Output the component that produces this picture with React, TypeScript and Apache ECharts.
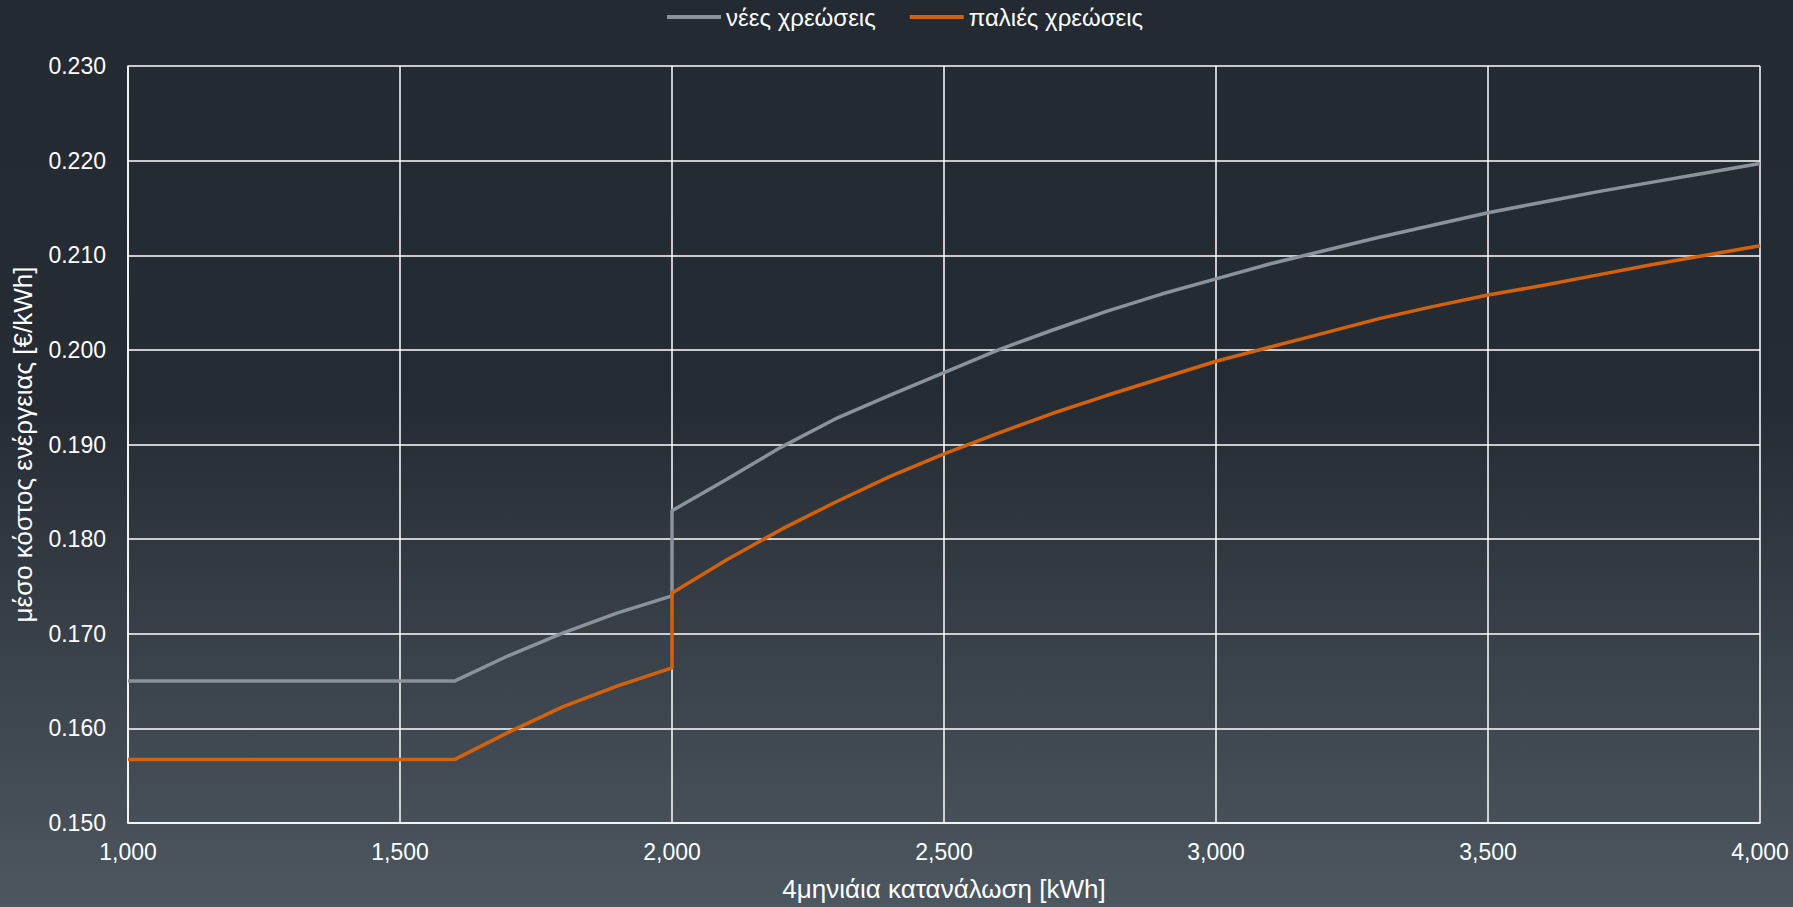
import React, { useEffect, useRef } from "react";
import * as echarts from "echarts";

const kwh = [
  1000, 1100, 1200, 1300, 1400, 1500, 1600, 1700, 1800, 1900, 2000, 2000,
  2100, 2200, 2300, 2400, 2500, 2600, 2700, 2800, 2900, 3000, 3100, 3200,
  3300, 3400, 3500, 3600, 3700, 3800, 3900, 4000,
];

const newCharges = [
  0.165, 0.165, 0.165, 0.165, 0.165, 0.165, 0.165, 0.1677, 0.1701, 0.1722,
  0.174, 0.183, 0.1863, 0.1897, 0.1927, 0.1952, 0.1976, 0.2, 0.2021, 0.2041,
  0.2059, 0.2075, 0.2091, 0.2105, 0.2119, 0.2132, 0.2145, 0.2156, 0.2167,
  0.2177, 0.2187, 0.2197,
];

const oldCharges = [
  0.1567, 0.1567, 0.1567, 0.1567, 0.1567, 0.1567, 0.1567, 0.1596, 0.1623,
  0.1645, 0.1664, 0.1743, 0.1778, 0.181, 0.1839, 0.1866, 0.189, 0.1912,
  0.1933, 0.1952, 0.197, 0.1988, 0.2003, 0.2018, 0.2033, 0.2046, 0.2058,
  0.2068, 0.2079, 0.209, 0.21, 0.211,
];

const seriesNames = ["νέες χρεώσεις", "παλιές χρεώσεις"];
const xAxisTitle = "4μηνιάια κατανάλωση [kWh]";
const yAxisTitle = "μέσο κόστος ενέργειας [€/kWh]";

const FONT = "Liberation Sans";

export default function App() {
  const ref = useRef<HTMLDivElement>(null);

  useEffect(() => {
    document.body.style.margin = "0";
    if (!ref.current) return;
    const chart = echarts.init(ref.current, null, { renderer: "svg" });
    const pairs = (vals: number[]) => kwh.map((x, i) => [x, vals[i]]);
    chart.setOption({
      animation: false,
      backgroundColor: new echarts.graphic.LinearGradient(0, 0, 0, 1, [
        { offset: 0, color: "#242a32" },
        { offset: 0.45, color: "#262c34" },
        { offset: 1, color: "#4d5760" },
      ]),
      textStyle: { fontFamily: FONT },
      legend: {
        top: 0,
        left: 662,
        icon: "rect",
        itemWidth: 54,
        itemHeight: 4,
        itemGap: 34,
        textStyle: { color: "#ffffff", fontSize: 24, fontFamily: FONT },
        data: seriesNames,
      },
      grid: { left: 128, right: 33, top: 66, bottom: 84, containLabel: false },
      xAxis: {
        type: "value",
        min: 1000,
        max: 4000,
        interval: 500,
        name: xAxisTitle,
        nameLocation: "middle",
        nameGap: 53,
        nameTextStyle: { color: "#ffffff", fontSize: 26, fontFamily: FONT },
        axisLine: { show: true, lineStyle: { color: "#ffffff", width: 1.5 } },
        axisTick: { show: false },
        axisLabel: {
          color: "#ffffff",
          fontSize: 23,
          margin: 17,
          formatter: (v: number) => v.toLocaleString("en-US"),
        },
        splitLine: { show: true, lineStyle: { color: "#ffffff", width: 1.5 } },
      },
      yAxis: {
        type: "value",
        min: 0.15,
        max: 0.23,
        interval: 0.01,
        name: yAxisTitle,
        nameLocation: "middle",
        nameGap: 92,
        nameTextStyle: { color: "#ffffff", fontSize: 26, fontFamily: FONT },
        axisLine: { show: true, lineStyle: { color: "#ffffff", width: 1.5 } },
        axisTick: { show: false },
        axisLabel: {
          color: "#ffffff",
          fontSize: 23,
          margin: 22,
          formatter: (v: number) => v.toFixed(3),
        },
        splitLine: { show: true, lineStyle: { color: "#ffffff", width: 1.5 } },
      },
      series: [
        {
          name: seriesNames[0],
          type: "line",
          data: pairs(newCharges),
          symbol: "none",
          lineStyle: { color: "#8a929c", width: 3.5 },
          itemStyle: { color: "#8a929c" },
        },
        {
          name: seriesNames[1],
          type: "line",
          data: pairs(oldCharges),
          symbol: "none",
          lineStyle: { color: "#d4610b", width: 3.5 },
          itemStyle: { color: "#d4610b" },
        },
      ],
    });
    return () => chart.dispose();
  }, []);

  return <div ref={ref} style={{ width: 1793, height: 907 }} />;
}
